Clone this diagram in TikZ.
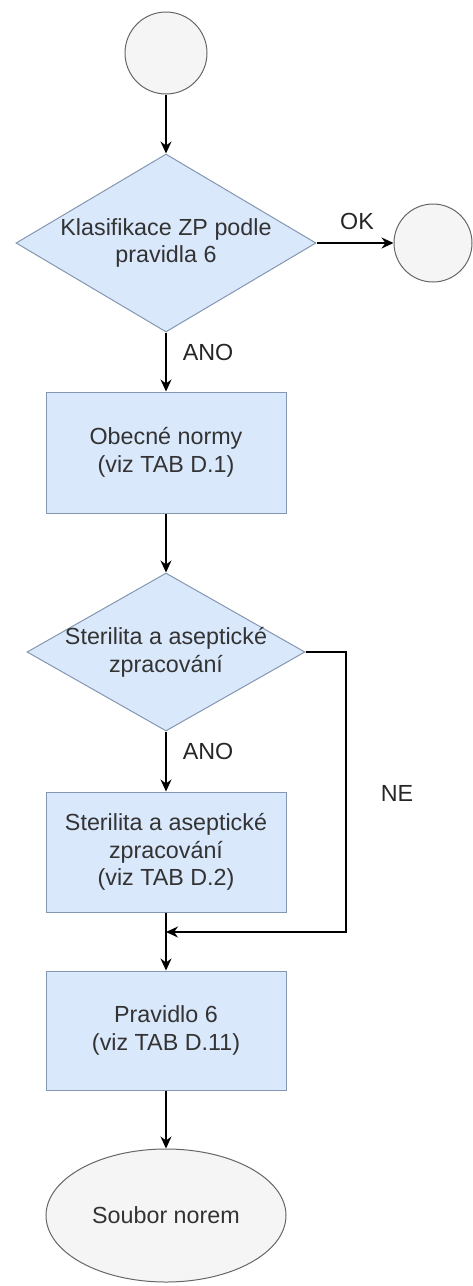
\documentclass[tikz,border=0pt]{standalone}
\usepackage{fontspec}
\setmainfont{Liberation Sans}
\usetikzlibrary{shapes.geometric,arrows.meta}
\definecolor{boxfill}{HTML}{DAE8FC}
\definecolor{boxdraw}{HTML}{8497B0}
\definecolor{circfill}{HTML}{F5F5F5}
\definecolor{circdraw}{HTML}{666666}
\definecolor{txt}{HTML}{333333}
\tikzset{
  every node/.style={font=\fontsize{23.3}{27.8}\selectfont, text=txt},
  startend/.style={circle, draw=circdraw, fill=circfill, line width=1pt, inner sep=0pt},
  decision/.style={diamond, draw=boxdraw, fill=boxfill, line width=1pt, inner sep=0pt},
  procbox/.style={rectangle, draw=boxdraw, fill=boxfill, line width=1pt, minimum width=240pt, align=center},
  finalell/.style={ellipse, draw=circdraw, fill=circfill, line width=1pt, minimum width=240pt, minimum height=133pt},
  conn/.style={line width=1.3pt, -{Stealth[length=12pt,width=11pt]}},
  lbl/.style={text=black!85}
}
\begin{document}
\begin{tikzpicture}[x=1pt,y=-1pt]
\useasboundingbox (0,0) rectangle (473,1286);
\node[startend, minimum size=82pt] (c1) at (166,53) {};
\node[decision, minimum width=300pt, minimum height=178pt,
  label={[align=center]center:Klasifikace ZP podle\\pravidla 6}] (d1) at (166,243) {};
\node[startend, minimum size=78pt] (c2) at (433,243) {};
\node[procbox, minimum height=121pt] (r1) at (166,452.5) {Obecné normy\\(viz TAB D.1)};
\node[decision, minimum width=278pt, minimum height=158pt,
  label={[align=center]center:Sterilita a aseptické\\zpracování}] (d2) at (166,652) {};
\node[procbox, minimum height=120pt] (r2) at (166,852) {Sterilita a aseptické\\zpracování\\(viz TAB D.2)};
\node[procbox, minimum height=119pt] (r3) at (166,1030.5) {Pravidlo 6\\(viz TAB D.11)};
\node[finalell] (el) at (166,1215.5) {Soubor norem};
\coordinate (k) at (346,932);
\coordinate (j) at (166,932);

\draw[conn] (c1) -- (d1.north);
\draw[conn] (d1.east) -- (c2.west);
\draw[conn] (d1.south) -- (r1.north);
\draw[conn] (r1.south) -- (d2.north);
\draw[conn] (d2.south) -- (r2.north);
\draw[conn] (d2.east) -| (k) -- (j);
\draw[conn] (r2.south) -- (r3.north);
\draw[conn] (r3.south) -- (el.north);

\node[lbl] (lok) at (357,221) {OK};
\node[lbl] (lano1) at (208,352) {ANO};
\node[lbl] (lano2) at (208,751) {ANO};
\node[lbl] (lne) at (397,793) {NE};
\end{tikzpicture}
\end{document}
